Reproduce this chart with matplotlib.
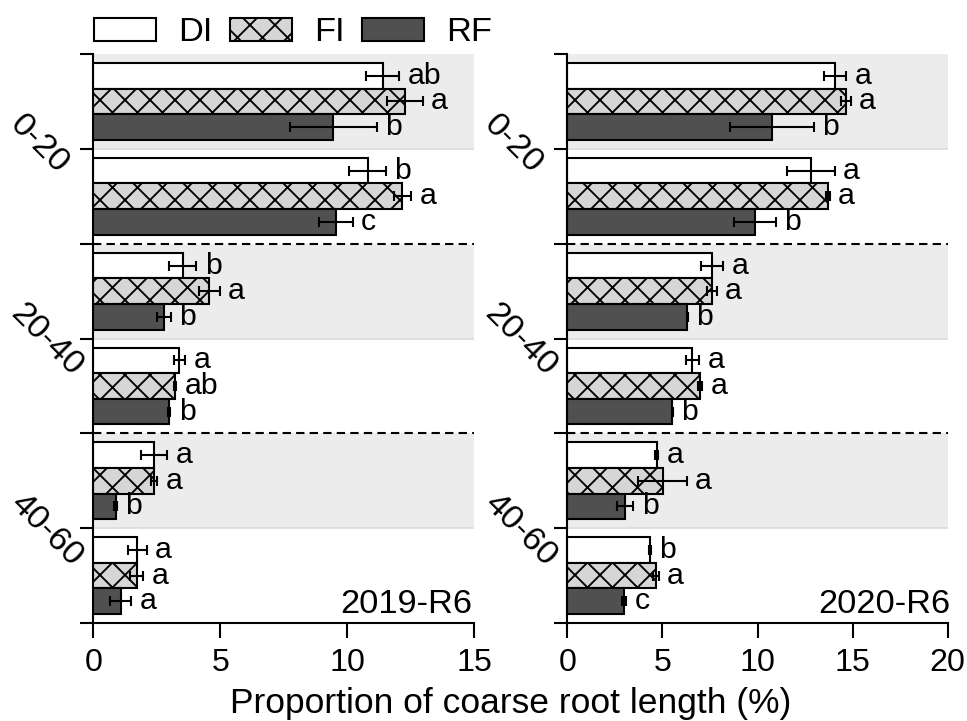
import numpy as np
import matplotlib
matplotlib.use("Agg")
import matplotlib.pyplot as plt

plt.rcParams['font.family'] = ['Liberation Sans', 'DejaVu Sans']
plt.rcParams['hatch.linewidth'] = 0.9

treatments = ['DI', 'FI', 'RF']
depth_labels = ['0-20', '20-40', '40-60']

# 6 rows per panel (top to bottom): two sub-groups per depth
# 2019-R6
di_2019 = [11.39, 10.80, 3.52, 3.39, 2.39, 1.73]
fi_2019 = [12.26, 12.17, 4.57, 3.22, 2.39, 1.71]
rf_2019 = [9.45, 9.55, 2.78, 2.98, 0.88, 1.08]
di_2019_err = [0.66, 0.73, 0.54, 0.23, 0.53, 0.37]
fi_2019_err = [0.71, 0.34, 0.40, 0.05, 0.12, 0.25]
rf_2019_err = [1.72, 0.67, 0.26, 0.05, 0.05, 0.42]
di_2019_let = ['ab', 'b', 'b', 'a', 'a', 'a']
fi_2019_let = ['a', 'a', 'a', 'ab', 'a', 'a']
rf_2019_let = ['b', 'c', 'b', 'b', 'b', 'a']

# 2020-R6
di_2020 = [14.07, 12.80, 7.61, 6.57, 4.70, 4.35]
fi_2020 = [14.65, 13.69, 7.61, 6.98, 5.01, 4.66]
rf_2020 = [10.76, 9.87, 6.31, 5.52, 3.03, 3.00]
di_2020_err = [0.58, 1.26, 0.59, 0.35, 0.07, 0.05]
fi_2020_err = [0.25, 0.10, 0.25, 0.10, 1.27, 0.15]
rf_2020_err = [2.19, 1.10, 0.03, 0.03, 0.44, 0.10]
di_2020_let = ['a', 'a', 'a', 'a', 'a', 'b']
fi_2020_let = ['a', 'a', 'a', 'a', 'a', 'a']
rf_2020_let = ['b', 'b', 'b', 'b', 'b', 'c']

fills = ['white', '#d6d6d6', '#505050']
hatches = ['', 'xx', '']

fig = plt.figure(figsize=(967/150, 721/150), dpi=150)
ax1 = fig.add_axes([0.0965, 0.136, 0.394, 0.789])
ax2 = fig.add_axes([0.5867, 0.136, 0.3934, 0.789])

panels = [
    (ax1, [di_2019, fi_2019, rf_2019], [di_2019_err, fi_2019_err, rf_2019_err],
     [di_2019_let, fi_2019_let, rf_2019_let], 15, '2019-R6', 0.995),
    (ax2, [di_2020, fi_2020, rf_2020], [di_2020_err, fi_2020_err, rf_2020_err],
     [di_2020_let, fi_2020_let, rf_2020_let], 20, '2020-R6', 1.008),
]

h = 0.27
rows = np.arange(6)
for ax, vals, errs, lets, xmax, tag, tagx in panels:
    for g in [0, 2, 4]:
        ax.axhspan(g, g + 1, facecolor='#ececec', edgecolor='none', zorder=0)
        ax.axhline(g + 1, color='#dcdcdc', lw=0.8, zorder=0.5)
    for k in range(3):
        y = rows + 0.5 + (k - 1) * h
        ax.barh(y, vals[k], height=h, color=fills[k], edgecolor='black',
                linewidth=1.0, hatch=hatches[k], label=treatments[k], zorder=2)
        ax.errorbar(vals[k], y, xerr=errs[k], fmt='none', ecolor='black',
                    elinewidth=1.0, capsize=2.4, capthick=1.0, zorder=3)
        for i in range(6):
            ax.annotate(lets[k][i], (vals[k][i] + errs[k][i], y[i]),
                        xytext=(4, 0), textcoords='offset points',
                        ha='left', va='center', fontsize=14.5, zorder=4)
    for yl in [2, 4]:
        ax.axhline(yl, color='black', lw=1.0, ls=(0, (4, 2.5)), zorder=1)
    ax.set_ylim(6, 0)
    ax.set_xlim(0, xmax)
    ax.set_xticks(np.arange(0, xmax + 1, 5))
    ax.set_yticks(range(7))
    ax.set_yticklabels([])
    for j, lab in enumerate(depth_labels):
        ax.annotate(lab, xy=(0, 2 * j + 1), xycoords=('axes fraction', 'data'),
                    xytext=(-32.4, 19.2), textcoords='offset points',
                    rotation=-45, rotation_mode='anchor', ha='left', va='top',
                    fontsize=16.5, annotation_clip=False)
    ax.tick_params(axis='y', length=6.2, width=1.0)
    ax.tick_params(axis='x', length=7.2, width=1.0, labelsize=15.5, pad=5)
    for s in ['top', 'right']:
        ax.spines[s].set_visible(False)
    for s in ['left', 'bottom']:
        ax.spines[s].set_linewidth(1.0)
    ax.text(tagx, 0.018, tag, transform=ax.transAxes, ha='right', va='baseline',
            fontsize=16.5)

fig.text(0.528, 0.011, 'Proportion of coarse root length (%)', ha='center',
         va='baseline', fontsize=17)

handles, labels = ax1.get_legend_handles_labels()
fig.legend(handles, labels, loc='upper left', bbox_to_anchor=(0.097, 0.976),
           ncol=3, frameon=False, fontsize=16.5, borderaxespad=0, borderpad=0,
           handlelength=1.8, handleheight=0.64, handletextpad=0.64,
           columnspacing=0.52)

fig.savefig('out.png', dpi=150)
